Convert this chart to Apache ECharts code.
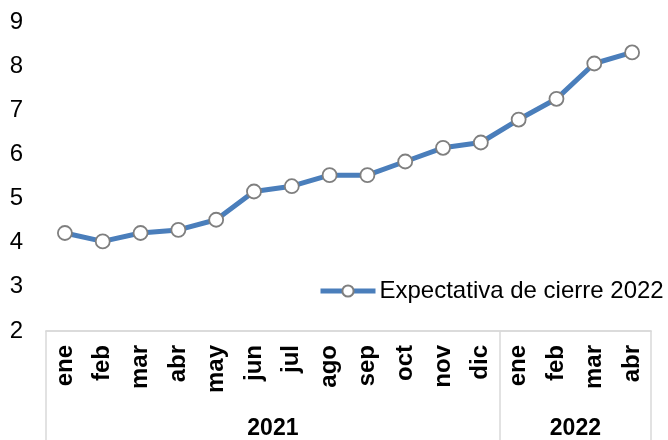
<!DOCTYPE html>
<html>
<head>
<meta charset="utf-8">
<script src="https://cdn.jsdelivr.net/npm/echarts@6/dist/echarts.min.js"></script>
<style>html,body{margin:0;padding:0;background:#fff}#c{width:668px;height:440px}</style>
</head>
<body>
<div id="c"></div>
<script>
const months = ['ene','feb','mar','abr','may','jun','jul','ago','sep','oct','nov','dic','ene','feb','mar','abr'];
const values = [4.22, 4.03, 4.22, 4.29, 4.52, 5.16, 5.28, 5.53, 5.53, 5.84, 6.15, 6.27, 6.79, 7.26, 8.06, 8.31];
const years = ['2021', '2022'];
const yearCenters = [5.5, 13.5];
const yearBounds = [-0.5, 11.5, 15.5];
const seriesName = 'Expectativa de cierre 2022';
const yTicks = {min: 2, max: 9, interval: 1};

const font = '"Liberation Sans", Arial, Helvetica, sans-serif';
const chart = echarts.init(document.getElementById('c'), null, {renderer: 'canvas'});
chart.setOption({
  animation: false,
  backgroundColor: '#fff',
  grid: {left: 46, right: 17, top: 22, bottom: 108},
  legend: {
    left: 318, top: 279, padding: 0,
    itemWidth: 55, itemHeight: 14, itemGap: 4,
    lineStyle: {width: 5, color: '#4a7ebb'},
    textStyle: {fontFamily: font, fontSize: 24, color: '#000', padding: [0, 0, 0, -1]},
    data: [seriesName]
  },
  xAxis: [{
    type: 'category',
    data: months,
    boundaryGap: true,
    axisLine: {show: true, lineStyle: {color: '#d9d9d9', width: 1.5}},
    axisTick: {show: false},
    axisLabel: {rotate: 90, margin: 14, fontFamily: font, fontWeight: 'bold', fontSize: 24, color: '#000', interval: 0}
  }, {
    type: 'value',
    position: 'bottom',
    min: yearBounds[0], max: yearBounds[yearBounds.length - 1],
    axisLine: {show: true, lineStyle: {color: '#d9d9d9', width: 1.5}},
    axisTick: {show: true, customValues: yearBounds, length: 120, lineStyle: {color: '#d9d9d9', width: 1.5}},
    axisLabel: {
      customValues: yearCenters, margin: 86,
      fontFamily: font, fontWeight: 'bold', fontSize: 23, color: '#000',
      formatter: function (v) { const i = yearCenters.indexOf(v); return i >= 0 ? years[i] : ''; }
    },
    splitLine: {show: false}
  }],
  yAxis: {
    type: 'value',
    min: yTicks.min, max: yTicks.max, interval: yTicks.interval,
    axisLine: {show: false}, axisTick: {show: false},
    splitLine: {show: false},
    axisLabel: {margin: 23, fontFamily: font, fontSize: 24, color: '#000'}
  },
  series: [{
    name: seriesName,
    type: 'line',
    xAxisIndex: 0,
    data: values,
    symbol: 'circle',
    symbolSize: 14,
    lineStyle: {color: '#4a7ebb', width: 5},
    itemStyle: {color: '#ffffff', borderColor: '#7f7f7f', borderWidth: 1.8},
    emphasis: {disabled: true}
  }]
});
</script>
</body>
</html>
